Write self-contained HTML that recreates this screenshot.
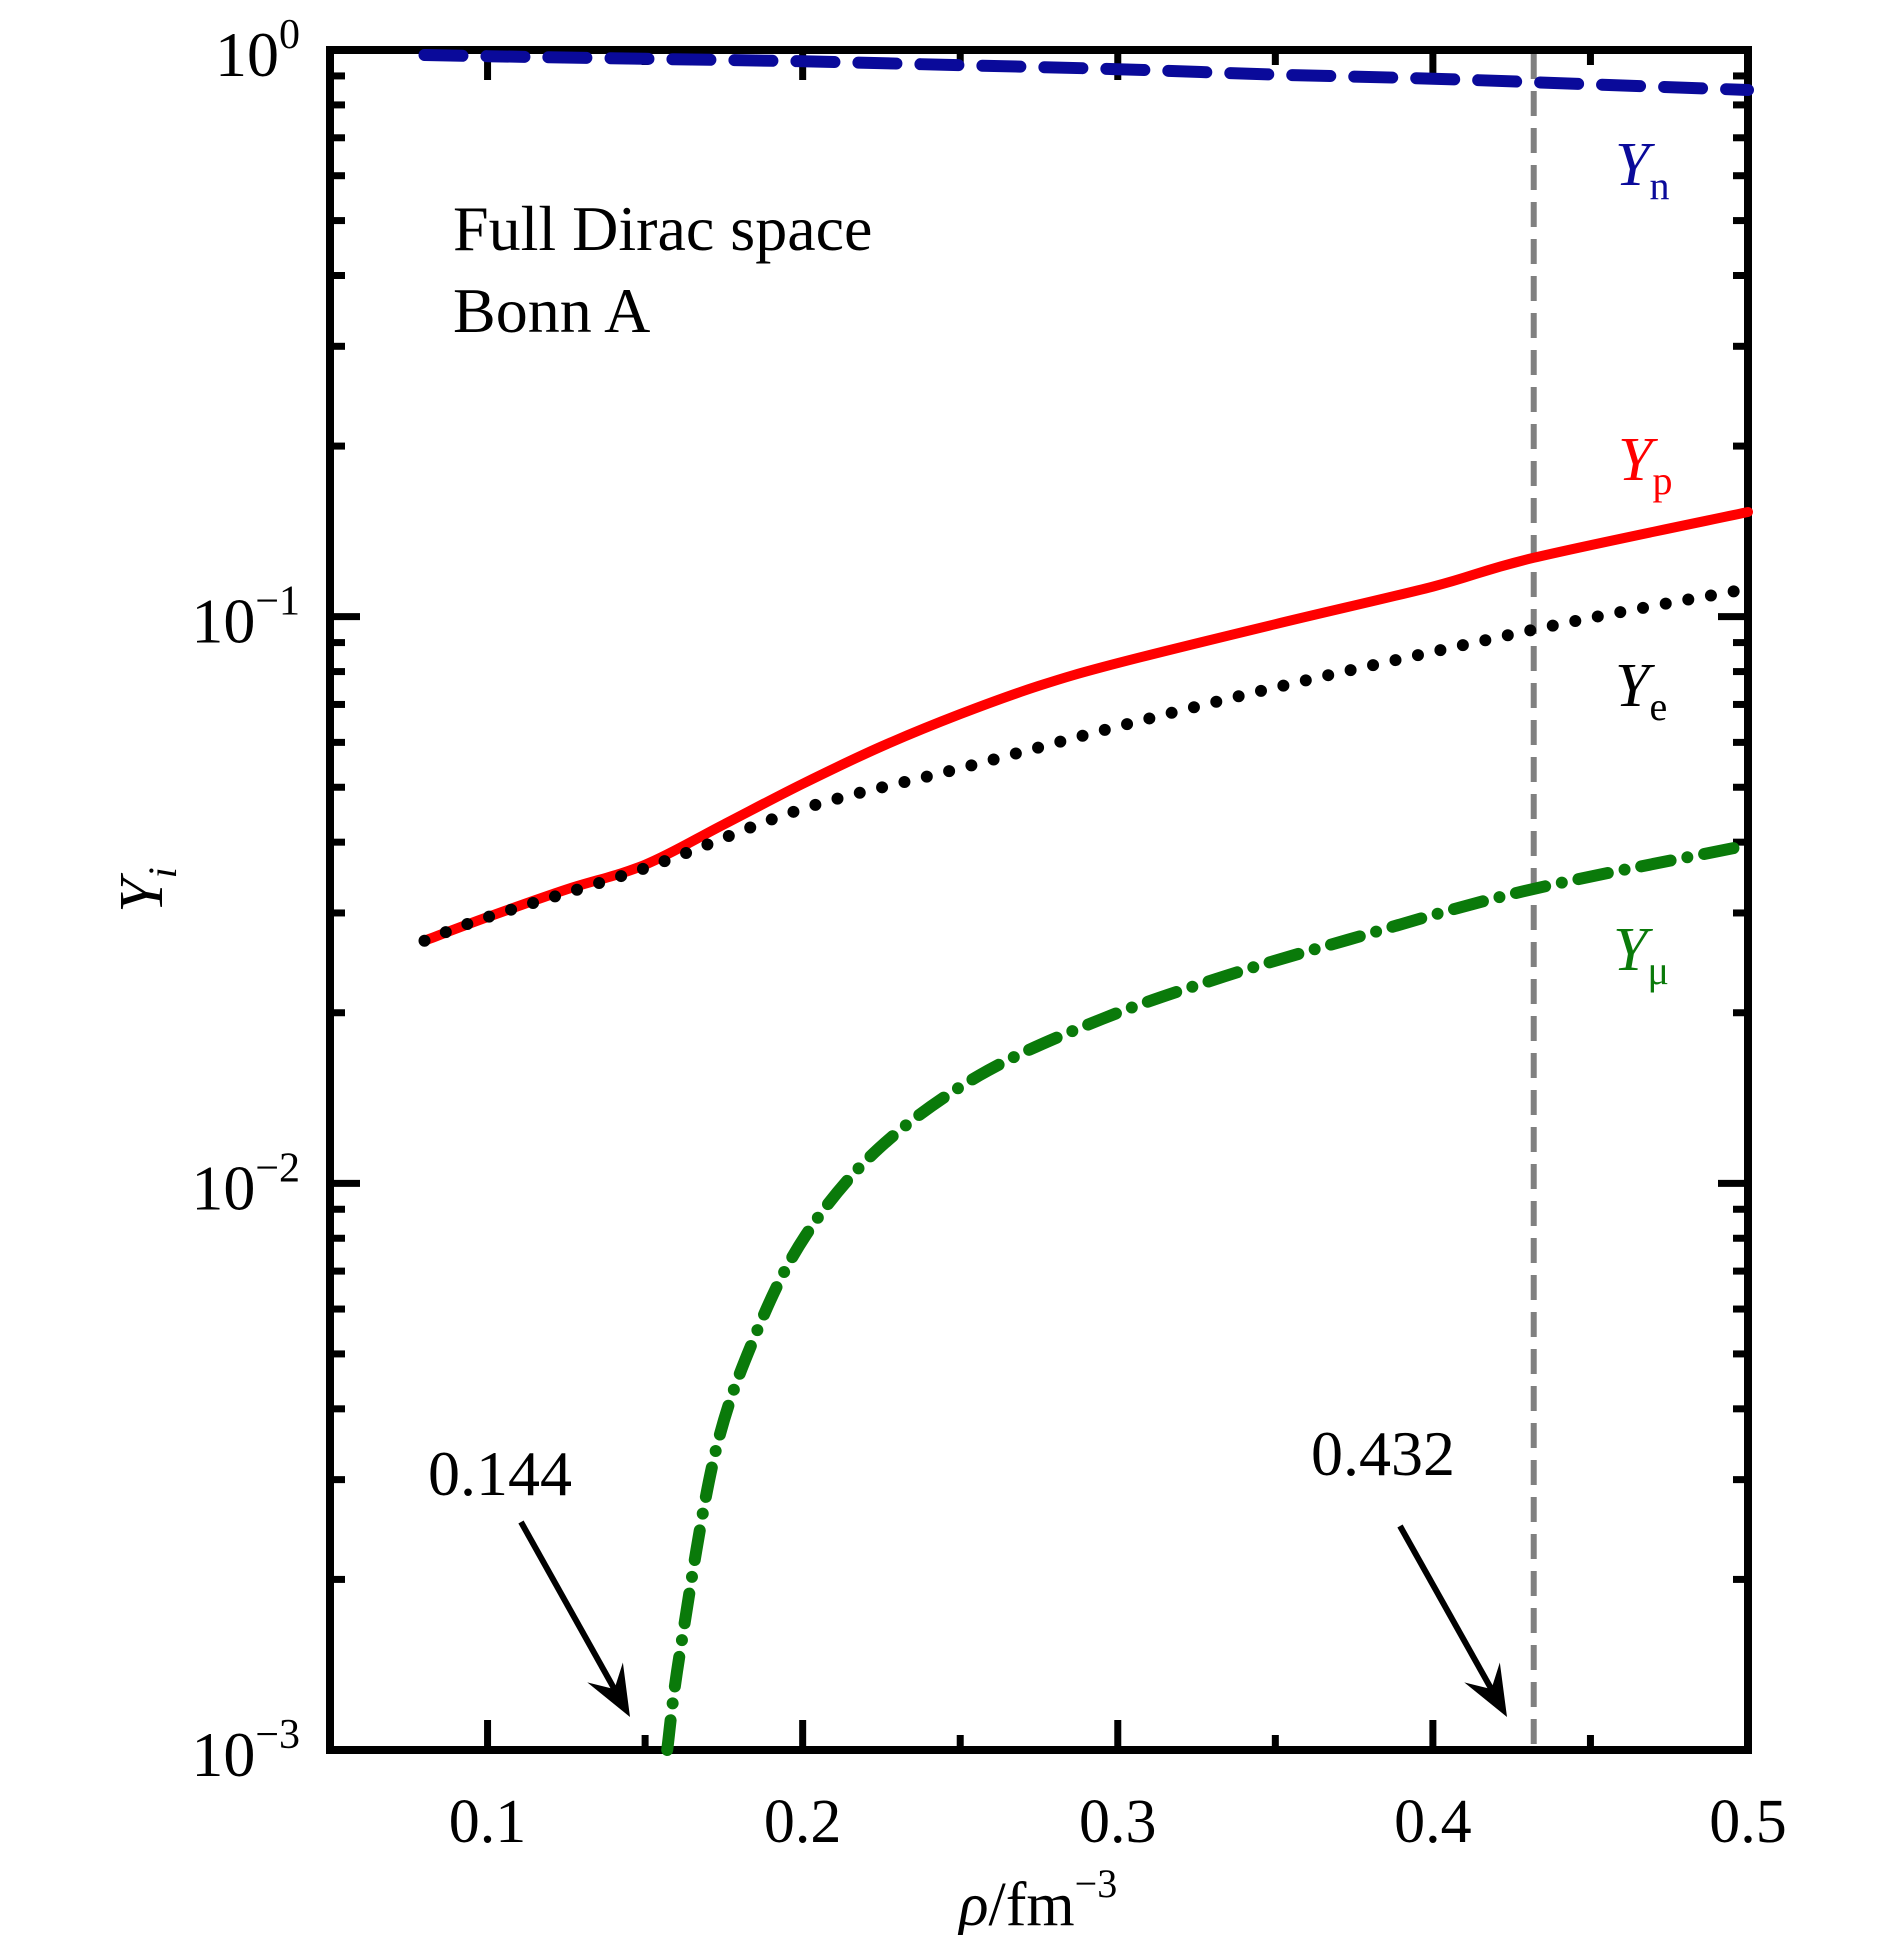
<!DOCTYPE html>
<html><head><meta charset="utf-8"><style>
html,body{margin:0;padding:0;background:#fff;}
svg{display:block;font-family:"Liberation Serif",serif;}
</style></head><body>
<svg id="chart" width="1890" height="1935" viewBox="0 0 1890 1935" xmlns="http://www.w3.org/2000/svg">
<g id="grid-layer"></g>
<g id="series-layer"></g>
<g id="annot-layer"></g>
</svg>
<script>
const xTicks=[0.1,0.2,0.3,0.4,0.5];
const xTickLabels=["0.1","0.2","0.3","0.4","0.5"];
const yDecades=[-3,-2,-1,0];
const yTickLabels=["\u22123","\u22122","\u22121","0"];
const xN=[0.08,0.1,0.15,0.2,0.25,0.3,0.35,0.4,0.45,0.5];
const yN=[0.98,0.975,0.965,0.955,0.94,0.925,0.905,0.89,0.87,0.85];
const xP=[0.08,0.1,0.125,0.15,0.175,0.2,0.225,0.25,0.275,0.3,0.35,0.4,0.432,0.5];
const yP=[0.0268,0.0295,0.033,0.0365,0.043,0.0507,0.059,0.0673,0.0755,0.0828,0.097,0.113,0.127,0.153];
const xE=[0.08,0.1,0.15,0.2,0.25,0.3,0.35,0.4,0.45,0.5];
const yE=[0.0268,0.0295,0.036,0.0458,0.054,0.064,0.075,0.0867,0.0995,0.112];
const xM=[0.157,0.161,0.172,0.185,0.201,0.224,0.256,0.295,0.334,0.373,0.428,0.497];
const yM=[0.001,0.00148,0.0033,0.0054,0.0081,0.0115,0.0155,0.0195,0.0232,0.0269,0.0327,0.0392];
const threshold1=0.144, threshold2=0.432;

const L=330,R=1748,T=50,B=1750;
const X0=0.05,X1=0.5,YL0=-3,YL1=0;
const sx=v=>L+(v-X0)/(X1-X0)*(R-L);
const sy=v=>B-(Math.log10(v)-YL0)/(YL1-YL0)*(B-T);
const NS="http://www.w3.org/2000/svg";
function mk(tag,attrs,parent){const e=document.createElementNS(NS,tag);for(const k in attrs)e.setAttribute(k,attrs[k]);parent.appendChild(e);return e;}
const g=document.getElementById('grid-layer'),s=document.getElementById('series-layer'),a=document.getElementById('annot-layer');

xTicks.forEach((v,i)=>{
  const x=sx(v);
  let t=mk('line',{x1:x,x2:x,y1:B,y2:B-30,stroke:'#000','stroke-width':7},g);
  
  t=mk('line',{x1:x,x2:x,y1:T,y2:T+30,stroke:'#000','stroke-width':7},g);
  
  const lb=mk('text',{x:x,y:1842,'font-size':62,'text-anchor':'middle'},g);lb.textContent=xTickLabels[i];
  
});
[0.15,0.25,0.35,0.45].forEach(v=>{
  const x=sx(v);
  let t=mk('line',{x1:x,x2:x,y1:B,y2:B-15,stroke:'#000','stroke-width':7},g);
  
  t=mk('line',{x1:x,x2:x,y1:T,y2:T+15,stroke:'#000','stroke-width':7},g);
  
});
yDecades.forEach((d,i)=>{
  const y=sy(Math.pow(10,d));
  let t=mk('line',{x1:L,x2:L+30,y1:y,y2:y,stroke:'#000','stroke-width':7},g);
  
  t=mk('line',{x1:R,x2:R-30,y1:y,y2:y,stroke:'#000','stroke-width':7},g);
  
  const lb=mk('text',{x:300,y:y+26,'font-size':64,'text-anchor':'end'},g);
  lb.textContent='10';
  
  const sp=mk('tspan',{dy:-28,'font-size':42},lb);sp.textContent=yTickLabels[i];
  if(d<0){for(let m=2;m<=9;m++){
    const yy=sy(m*Math.pow(10,d));
    let u=mk('line',{x1:L,x2:L+15,y1:yy,y2:yy,stroke:'#000','stroke-width':7},g);
    
    u=mk('line',{x1:R,x2:R-15,y1:yy,y2:yy,stroke:'#000','stroke-width':7},g);
    
  }}
});
const frame=mk('rect',{x:L,y:T,width:R-L,height:B-T,fill:'none',stroke:'#000','stroke-width':8},g);


const vl=mk('line',{x1:sx(threshold2),x2:sx(threshold2),y1:T+4,y2:B-4,stroke:'#808080','stroke-width':6,'stroke-dasharray':'25 12'},s);


function path(xs,ys){
  const P=xs.map((v,i)=>[sx(v),sy(ys[i])]);
  let d='M'+P[0][0].toFixed(1)+','+P[0][1].toFixed(1);
  for(let i=0;i<P.length-1;i++){
    const p0=P[i-1]||P[i],p1=P[i],p2=P[i+1],p3=P[i+2]||P[i+1];
    const c1=[p1[0]+(p2[0]-p0[0])/6,p1[1]+(p2[1]-p0[1])/6];
    const c2=[p2[0]-(p3[0]-p1[0])/6,p2[1]-(p3[1]-p1[1])/6];
    d+=` C${c1[0].toFixed(1)},${c1[1].toFixed(1)} ${c2[0].toFixed(1)},${c2[1].toFixed(1)} ${p2[0].toFixed(1)},${p2[1].toFixed(1)}`;
  }
  return d;
}
let p=mk('path',{d:path(xN,yN),fill:'none',stroke:'#0a0a9a','stroke-width':12,'stroke-dasharray':'38 24','stroke-linecap':'round'},s);

p=mk('path',{d:path(xP,yP),fill:'none',stroke:'#ff0000','stroke-width':10,'stroke-linecap':'round','stroke-linejoin':'round'},s);

p=mk('path',{d:path(xE,yE),fill:'none',stroke:'#000','stroke-width':12,'stroke-dasharray':'0 23','stroke-linecap':'round'},s);

p=mk('path',{d:path(xM,yM),fill:'none',stroke:'#0a7a0a','stroke-width':12,'stroke-dasharray':'30 17 0 17','stroke-linecap':'round'},s);


function arrow(x1,y1,x2,y2,name){
  const gg=mk('g',{},a);
  const ang=Math.atan2(y2-y1,x2-x1),hl=55,hw=0.38;
  mk('line',{x1:x1,y1:y1,x2:x2-Math.cos(ang)*20,y2:y2-Math.sin(ang)*20,stroke:'#000','stroke-width':6},gg);
  const ax=x2-hl*Math.cos(ang-hw),ay=y2-hl*Math.sin(ang-hw),bx=x2-hl*Math.cos(ang+hw),by=y2-hl*Math.sin(ang+hw);
  const cx=x2-32*Math.cos(ang),cy=y2-32*Math.sin(ang);
  mk('path',{d:`M${x2},${y2} L${ax},${ay} L${cx},${cy} L${bx},${by} Z`,fill:'#000'},gg);
}
arrow(521,1522,630,1717,'arrow-0144');
arrow(1400,1526,1507,1717,'arrow-0432');
</script>
<svg style="position:absolute;left:0;top:0" width="1890" height="1935" font-family="Liberation Serif, serif">
<text x="453" y="250" font-size="64">Full Dirac space</text>
<text x="453" y="332" font-size="64">Bonn A</text>
<text x="500" y="1495" font-size="64" text-anchor="middle">0.144</text>
<text x="1383" y="1475" font-size="64" text-anchor="middle">0.432</text>
<text x="1615" y="185" font-size="62" fill="#0a0a9a"><tspan font-style="italic">Y</tspan><tspan font-size="40" dy="14">n</tspan></text>
<text x="1618" y="480" font-size="62" fill="#ff0000"><tspan font-style="italic">Y</tspan><tspan font-size="40" dy="14">p</tspan></text>
<text x="1615" y="706" font-size="62" fill="#000"><tspan font-style="italic">Y</tspan><tspan font-size="40" dy="14">e</tspan></text>
<text x="1613" y="970" font-size="62" fill="#0a7a0a"><tspan font-style="italic">Y</tspan><tspan font-size="40" dy="14">μ</tspan></text>
<text x="1038" y="1925" font-size="62" text-anchor="middle"><tspan font-style="italic">ρ</tspan>/fm<tspan font-size="40" dy="-28">−3</tspan></text>
<text transform="translate(162,890) rotate(-90)" font-size="62" text-anchor="middle"><tspan font-style="italic">Y</tspan><tspan font-style="italic" font-size="40" dy="14">i</tspan></text>
</svg>
</body></html>
